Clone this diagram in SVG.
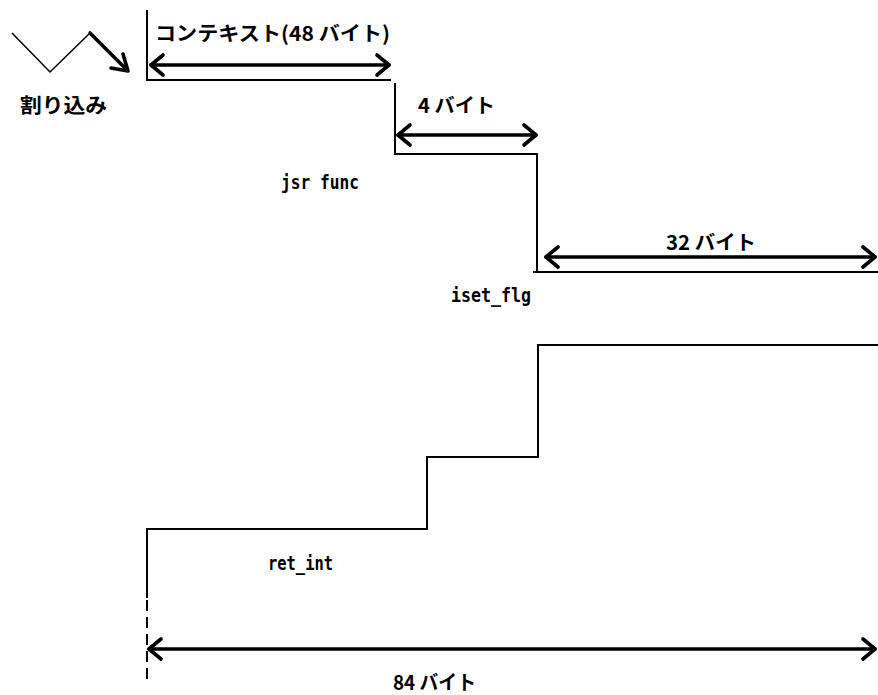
<svg xmlns="http://www.w3.org/2000/svg" width="878" height="695" viewBox="0 0 878 695">
<style>
.ln{stroke:#000;stroke-width:2;fill:none}
.ar{stroke:#000;stroke-width:3.6;fill:none;stroke-linecap:round;stroke-linejoin:round}
.t{font-family:"Noto Sans CJK JP","DejaVu Sans",sans-serif;font-weight:bold;font-size:20px;fill:#000}
.m{font-family:"DejaVu Sans Mono","Liberation Mono",monospace;font-weight:bold;font-size:19px;fill:#000}
</style>
<rect width="878" height="695" fill="#fff"/>
<g id="connectors">
  <polyline class="ln" points="147,10 147,80 391,80"/>
  <polyline class="ln" points="395,83 395,154 537,154 537,272"/>
  <line class="ln" x1="533" y1="272" x2="878" y2="272"/>
  <polyline class="ln" points="878,345 538,345 538,457 426,457"/>
  <polyline class="ln" points="427,457 427,529 147,529 147,598"/>
  <line class="ln" x1="147" y1="600" x2="147" y2="680" stroke-dasharray="11,6"/>
  <polyline stroke="#000" stroke-width="1.5" fill="none" points="12,33 50,72 90,33"/>
  <line class="ar" x1="90" y1="33" x2="127" y2="70"/>
  <polyline class="ar" points="123,54 128,71 111,68"/>
  <g id="arrow1"><line class="ar" x1="151" y1="65" x2="389" y2="65"/><polyline class="ar" points="163,55 151,65 163,75"/><polyline class="ar" points="377,55 389,65 377,75"/></g>
  <g id="arrow2"><line class="ar" x1="398" y1="135" x2="536" y2="135"/><polyline class="ar" points="410,125 398,135 410,145"/><polyline class="ar" points="524,125 536,135 524,145"/></g>
  <g id="arrow3"><line class="ar" x1="546" y1="257" x2="875" y2="257"/><polyline class="ar" points="558,247 546,257 558,267"/><polyline class="ar" points="863,247 875,257 863,267"/></g>
  <g id="arrow4"><line class="ar" x1="149" y1="649" x2="875" y2="649"/><polyline class="ar" points="161,639 149,649 161,659"/><polyline class="ar" points="863,639 875,649 863,659"/></g>
</g>
<g id="labels">
  <text class="t" x="155" y="41" textLength="235" lengthAdjust="spacingAndGlyphs">コンテキスト(48 バイト)</text>
  <text class="t" x="20" y="113" font-size="21" textLength="87" lengthAdjust="spacingAndGlyphs">割り込み</text>
  <text class="t" x="418" y="113" textLength="77" lengthAdjust="spacingAndGlyphs">4 バイト</text>
  <text class="m" x="281" y="189" textLength="78" lengthAdjust="spacingAndGlyphs">jsr func</text>
  <text class="t" x="666" y="250" textLength="90" lengthAdjust="spacingAndGlyphs">32 バイト</text>
  <text class="m" x="451" y="302" textLength="80" lengthAdjust="spacingAndGlyphs">iset_flg</text>
  <text class="m" x="268" y="570" textLength="65" lengthAdjust="spacingAndGlyphs">ret_int</text>
  <text class="t" x="393" y="690" textLength="83" lengthAdjust="spacingAndGlyphs">84 バイト</text>
</g>
</svg>
